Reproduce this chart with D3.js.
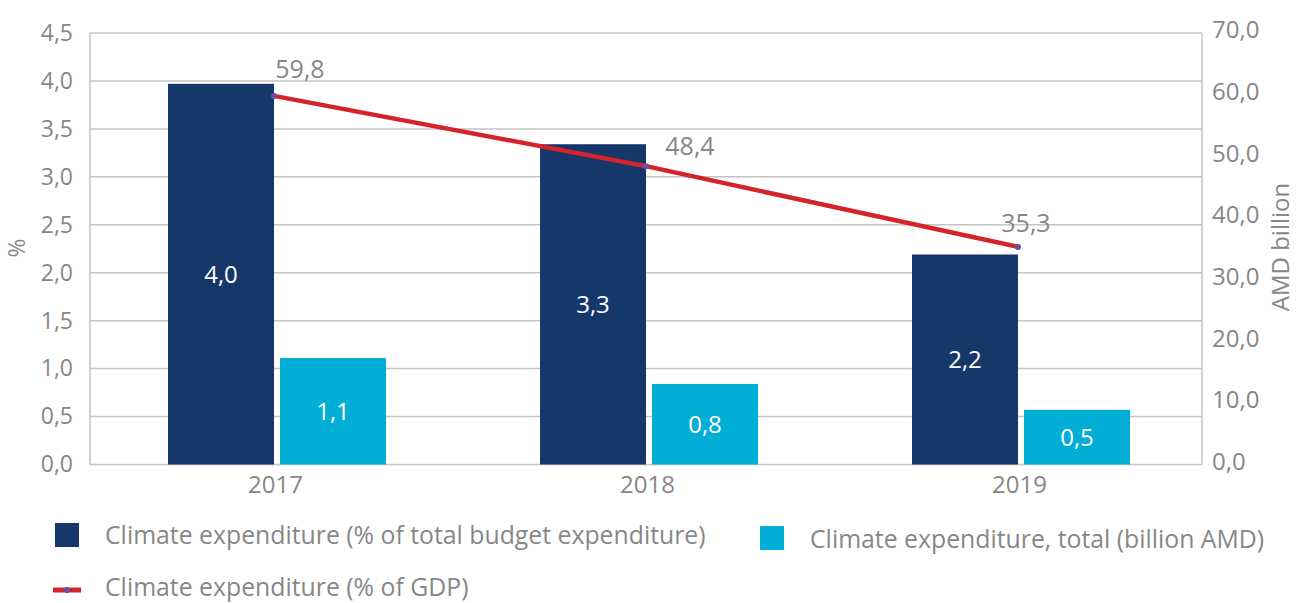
<!DOCTYPE html>
<html>
<head>
<meta charset="utf-8">
<script src="https://cdn.jsdelivr.net/npm/d3@7"></script>
<style>
  body { margin: 0; background: #fff; }
  svg text { font-family: "Open Sans", sans-serif; }
</style>
</head>
<body>
<svg id="chart" width="1296" height="603"></svg>
<script>
// data
const years = ["2017", "2018", "2019"];
const budgetShare = [3.97, 3.34, 2.19];      // % of total budget expenditure (left axis)
const budgetShareLabels = ["4,0", "3,3", "2,2"];
const totalBn = [1.11, 0.84, 0.57];           // drawn on the left axis too
const totalBnLabels = ["1,1", "0,8", "0,5"];
const gdpLine = [59.8, 48.4, 35.3];           // plotted on the right axis
const gdpLabels = ["59,8", "48,4", "35,3"];
const leftTicks = [0, 0.5, 1, 1.5, 2, 2.5, 3, 3.5, 4, 4.5];
const rightTicks = [0, 10, 20, 30, 40, 50, 60, 70];

const navy = "#163769", cyan = "#00aed6", red = "#d4232b", grey = "#878787";

const svg = d3.select("#chart");
const plotLeft = 90, plotRight = 1202, plotTop = 33, plotBottom = 464.5;

const y = d3.scaleLinear().domain([0, 4.5]).range([plotBottom, plotTop]);
const y2 = d3.scaleLinear().domain([0, 70]).range([plotBottom, plotTop]);
const x = d3.scaleBand().domain(years).range([89.5, 1205.5]);

const comma = d => d3.format(".1f")(d).replace(".", ",");

// gridlines
svg.append("g")
  .selectAll("line")
  .data(leftTicks)
  .join("line")
    .attr("x1", plotLeft).attr("x2", plotRight)
    .attr("y1", d => y(d)).attr("y2", d => y(d))
    .attr("stroke", "#c4c4c4")
    .attr("stroke-width", 1.5);

// side lines of the plot
[plotLeft, plotRight].forEach(px => {
  svg.append("line")
    .attr("x1", px).attr("x2", px)
    .attr("y1", plotTop).attr("y2", plotBottom)
    .attr("stroke", "#c4c4c4")
    .attr("stroke-width", 1.5);
});

// left axis
const yAxis = svg.append("g")
  .attr("transform", `translate(${plotLeft},0)`)
  .call(d3.axisLeft(y).tickValues(leftTicks).tickFormat(comma).tickSize(0).tickPadding(17));
yAxis.select(".domain").remove();
yAxis.selectAll("text").attr("fill", grey).style("font-size", "23px");

// right axis
const y2Axis = svg.append("g")
  .attr("transform", `translate(${plotRight},0)`)
  .call(d3.axisRight(y2).tickValues(rightTicks).tickFormat(comma).tickSize(0).tickPadding(10));
y2Axis.select(".domain").remove();
y2Axis.selectAll("text").attr("fill", grey).style("font-size", "24px").attr("dy", "0.2em");

// x axis labels
const xAxis = svg.append("g")
  .attr("transform", `translate(0,${plotBottom})`)
  .call(d3.axisBottom(x).tickSize(0).tickPadding(11));
xAxis.select(".domain").remove();
xAxis.selectAll("text").attr("fill", grey).style("font-size", "24px");

// axis titles
svg.append("text")
  .attr("transform", "translate(25,248) rotate(-90)")
  .attr("text-anchor", "middle")
  .attr("fill", grey)
  .style("font-size", "23px")
  .text("%");

svg.append("text")
  .attr("transform", "translate(1289,247) rotate(-90)")
  .attr("text-anchor", "middle")
  .attr("fill", grey)
  .style("font-size", "24px")
  .text("AMD billion");

// bars
const barW = 106, gap = 6;
const groupStart = d => x(d) + x.bandwidth() / 2 - barW - gap / 2 + 1.5;

const bars = [
  { vals: budgetShare, labels: budgetShareLabels, color: navy, off: 0 },
  { vals: totalBn, labels: totalBnLabels, color: cyan, off: barW + gap }
];

bars.forEach(s => {
  const g = svg.append("g");
  g.selectAll("rect")
    .data(years)
    .join("rect")
      .attr("x", (d, i) => groupStart(d) + s.off)
      .attr("width", barW)
      .attr("y", (d, i) => y(s.vals[i]))
      .attr("height", (d, i) => y(0) - y(s.vals[i]))
      .attr("fill", s.color);
  g.selectAll("text")
    .data(years)
    .join("text")
      .attr("x", (d, i) => groupStart(d) + s.off + barW / 2)
      .attr("y", (d, i) => (y(s.vals[i]) + y(0)) / 2)
      .attr("dy", "0.35em")
      .attr("text-anchor", "middle")
      .attr("fill", "#fff")
      .style("font-size", "24px")
      .text((d, i) => s.labels[i]);
});

// line, anchored where the navy bar ends
const cx = d => groupStart(d) + barW;
const line = d3.line()
  .x((d, i) => cx(years[i]))
  .y(d => y2(d));

svg.append("path")
  .datum(gdpLine)
  .attr("d", line)
  .attr("fill", "none")
  .attr("stroke", red)
  .attr("stroke-width", 4.5);

svg.append("g")
  .selectAll("circle")
  .data(gdpLine)
  .join("circle")
    .attr("cx", (d, i) => cx(years[i]))
    .attr("cy", d => y2(d))
    .attr("r", 3)
    .attr("fill", "#6b4fa0");

// label nudges (layout only)
const nudge = [[26, -27], [44, -20], [8, -24]];
svg.append("g")
  .selectAll("text")
  .data(gdpLine)
  .join("text")
    .attr("x", (d, i) => cx(years[i]) + nudge[i][0])
    .attr("y", (d, i) => y2(d) + nudge[i][1])
    .attr("dy", "0.35em")
    .attr("text-anchor", "middle")
    .attr("fill", grey)
    .style("font-size", "25px")
    .text((d, i) => gdpLabels[i]);

// legend
const legend = svg.append("g").style("font-size", "24.8px");

legend.append("rect").attr("x", 55).attr("y", 523).attr("width", 24).attr("height", 24).attr("fill", navy);
legend.append("text").attr("x", 105).attr("y", 535.5).attr("dy", "0.35em").attr("fill", grey)
  .text("Climate expenditure (% of total budget expenditure)");

legend.append("rect").attr("x", 760).attr("y", 526).attr("width", 24).attr("height", 24).attr("fill", cyan);
legend.append("text").attr("x", 810).attr("y", 539).attr("dy", "0.35em").attr("fill", grey)
  .text("Climate expenditure, total (billion AMD)");

legend.append("line").attr("x1", 53).attr("x2", 81).attr("y1", 590).attr("y2", 590)
  .attr("stroke", red).attr("stroke-width", 5);
legend.append("circle").attr("cx", 67).attr("cy", 590).attr("r", 3).attr("fill", "#6b4fa0");
legend.append("text").attr("x", 105).attr("y", 587).attr("dy", "0.35em").attr("fill", grey)
  .text("Climate expenditure (% of GDP)");
</script>
</body>
</html>
